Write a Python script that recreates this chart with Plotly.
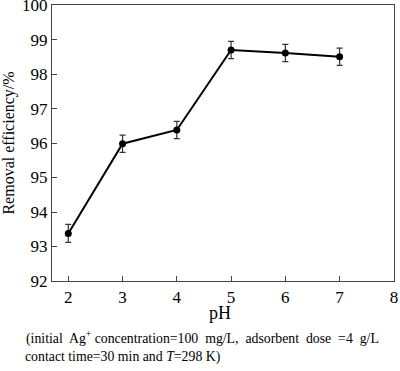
import plotly.graph_objects as go

ph = [2, 3, 4, 5, 6, 7]
removal = [93.38, 95.98, 96.38, 98.70, 98.61, 98.50]
err = [0.26, 0.25, 0.25, 0.25, 0.25, 0.25]
x_ticks = [2, 3, 4, 5, 6, 7, 8]
y_ticks = [92, 93, 94, 95, 96, 97, 98, 99, 100]

font = "Liberation Serif, Times New Roman, serif"

fig = go.Figure()
fig.add_trace(go.Scatter(
    x=ph, y=removal, mode="lines+markers",
    line=dict(color="black", width=2),
    marker=dict(color="black", size=7),
    error_y=dict(type="data", array=err, visible=True, color="#333", thickness=1.2, width=3),
    showlegend=False,
))

fig.update_xaxes(range=[1.7, 8.002], tickvals=x_ticks, ticks="inside", ticklen=5,
                 showline=True, linecolor="#444", linewidth=1.2, mirror=True,
                 showgrid=False, zeroline=False, automargin=False, ticklabeloverflow="allow",
                 tickfont=dict(family=font, size=17, color="black"))
fig.update_yaxes(range=[92, 100.003], tickvals=y_ticks, ticks="inside", ticklen=5,
                 showline=True, linecolor="#444", linewidth=1.2, mirror=True,
                 showgrid=False, zeroline=False, automargin=False, ticklabeloverflow="allow",
                 tickfont=dict(family=font, size=17, color="black"),
                 title=dict(text="Removal efficiency/%", font=dict(family=font, size=16, color="black"), standoff=4))

fig.add_annotation(
    text="pH", xref="paper", yref="paper", x=0.49, y=-0.116,
    xanchor="center", yanchor="middle", showarrow=False,
    font=dict(family=font, size=18, color="black"),
)
fig.add_annotation(
    text="(initial  Ag<sup>+</sup> concentration=100  mg/L,  adsorbent  dose  =4  g/L",
    xref="paper", yref="paper", x=-0.082, y=-0.203, xanchor="left", yanchor="middle",
    align="left", showarrow=False,
    font=dict(family=font, size=13.8, color="black"),
)
fig.add_annotation(
    text="contact time=30 min and <i>T</i>=298 K)",
    xref="paper", yref="paper", x=-0.085, y=-0.275, xanchor="left", yanchor="middle",
    align="left", showarrow=False,
    font=dict(family=font, size=13.8, color="black"),
)

fig.update_layout(
    width=400, height=371,
    margin=dict(l=52, r=6, t=5, b=90),
    plot_bgcolor="white", paper_bgcolor="white",
)

fig.write_html("out.html", config={"displayModeBar": False},
               post_script="document.body.style.margin='0';")
